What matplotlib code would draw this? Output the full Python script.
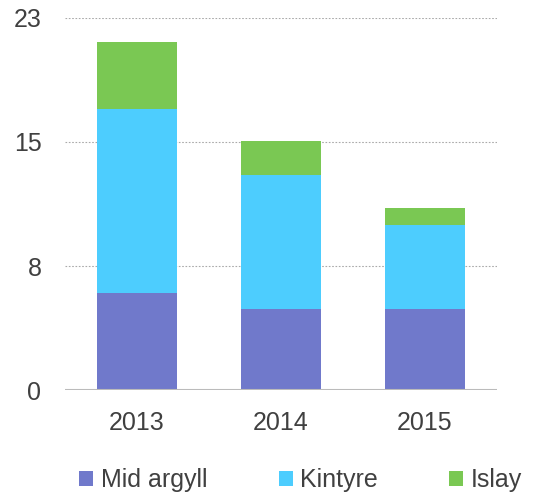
import matplotlib.pyplot as plt
import numpy as np

plt.rcParams['font.family'] = ['Liberation Sans', 'DejaVu Sans']

# Data
years = ["2013", "2014", "2015"]
mid_argyll = [6.0, 5.0, 5.0]
kintyre = [11.4, 8.3, 5.2]
islay = [4.1, 2.1, 1.05]

colors = ["#7079cb", "#4dcdfe", "#7ac853"]
labels = ["Mid argyll", "Kintyre", "Islay"]

fig = plt.figure(figsize=(5.35, 4.99), dpi=100)
ax = fig.add_axes([0.1215, 0.2184, 0.8075, 0.7456])

x = np.arange(len(years))
w = 0.556
ax.bar(x, mid_argyll, w, color=colors[0], label=labels[0], zorder=2)
ax.bar(x, kintyre, w, bottom=mid_argyll, color=colors[1], label=labels[1], zorder=2)
bottom2 = np.array(mid_argyll) + np.array(kintyre)
ax.bar(x, islay, w, bottom=bottom2, color=colors[2], label=labels[2], zorder=2)

ax.set_xlim(-0.5, 2.5)
ax.set_ylim(0, 23)
yt = [0, 23 / 3, 46 / 3, 23]
ax.set_yticks(yt)
ax.set_yticklabels(["0", "8", "15", "23"])
ax.set_xticks(x)
ax.set_xticklabels(years)
for y in yt[1:]:
    ax.axhline(y, color="#aaaaaa", linestyle=(0, (1.5, 1.5)), linewidth=0.8, zorder=1)
ax.axhline(0, color="#bbbbbb", linewidth=1.5, zorder=3)

for s in ax.spines.values():
    s.set_visible(False)
ax.tick_params(axis="both", length=0, labelsize=18, colors="#404040")
ax.tick_params(axis="y", pad=17)
ax.tick_params(axis="x", pad=15)

fig.legend(loc="center", bbox_to_anchor=(0.5617, 0.038), ncol=3, frameon=False,
           fontsize=18, handlelength=0.56, handleheight=0.56, handletextpad=0.3,
           columnspacing=2.85, labelcolor="#404040")

fig.savefig("out.png", dpi=100)
